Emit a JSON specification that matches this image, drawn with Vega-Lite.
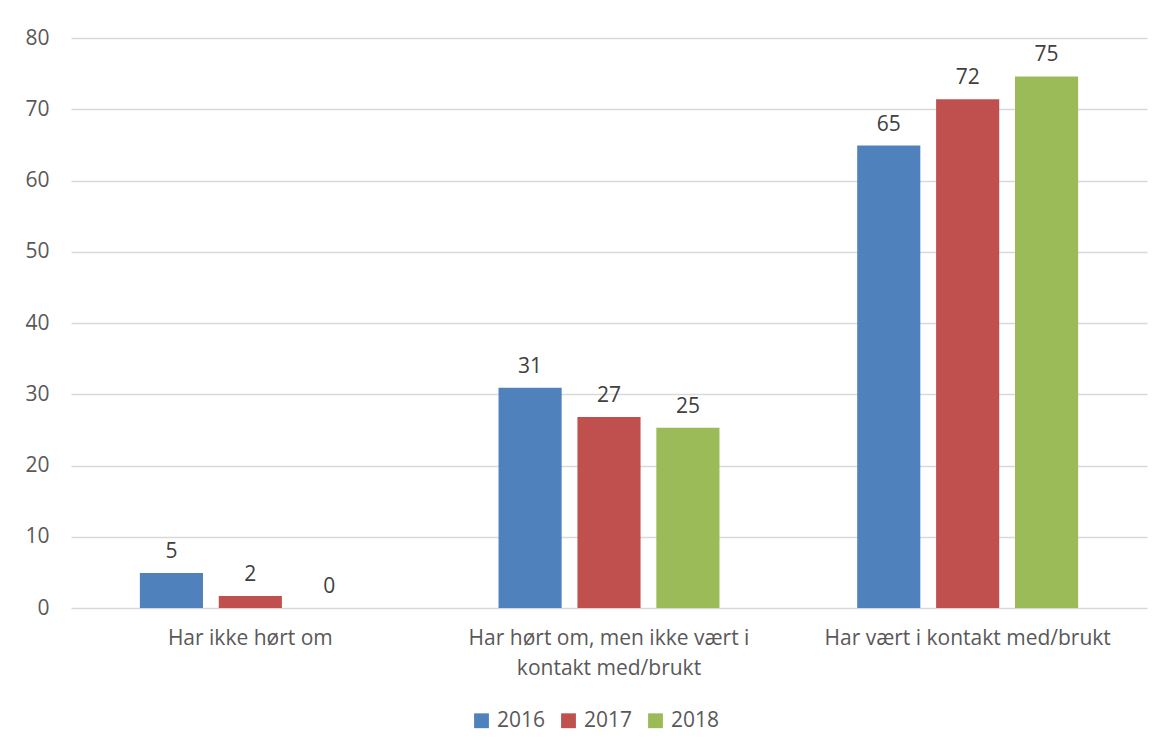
{
  "$schema": "https://vega.github.io/schema/vega-lite/v6.json",
  "autosize": {"type": "none"},
  "width": 1076,
  "height": 570,
  "padding": {"left": 71, "top": 38, "right": 20, "bottom": 145},
  "background": "white",
  "data": {
    "values": [
      {"kategori": "Har ikke hørt om", "år": "2016", "verdi": 4.9, "etikett": "5"},
      {"kategori": "Har ikke hørt om", "år": "2017", "verdi": 1.7, "etikett": "2"},
      {"kategori": "Har ikke hørt om", "år": "2018", "verdi": 0, "etikett": "0"},
      {"kategori": "Har hørt om, men ikke vært i kontakt med/brukt", "år": "2016", "verdi": 30.9, "etikett": "31"},
      {"kategori": "Har hørt om, men ikke vært i kontakt med/brukt", "år": "2017", "verdi": 26.8, "etikett": "27"},
      {"kategori": "Har hørt om, men ikke vært i kontakt med/brukt", "år": "2018", "verdi": 25.3, "etikett": "25"},
      {"kategori": "Har vært i kontakt med/brukt", "år": "2016", "verdi": 64.9, "etikett": "65"},
      {"kategori": "Har vært i kontakt med/brukt", "år": "2017", "verdi": 71.4, "etikett": "72"},
      {"kategori": "Har vært i kontakt med/brukt", "år": "2018", "verdi": 74.6, "etikett": "75"}
    ]
  },
  "config": {
    "font": "Open Sans",
    "view": {"stroke": null}
  },
  "encoding": {
    "x": {
      "field": "kategori",
      "type": "nominal",
      "sort": null,
      "scale": {"paddingInner": 0.384, "paddingOuter": 0.192},
      "axis": {
        "title": null,
        "labelAngle": 0,
        "ticks": false,
        "domain": false,
        "labelPadding": 19,
        "labelLineHeight": 30,
        "labelLimit": 0,
        "labelFontSize": 21,
        "labelColor": "#595959",
        "labelFont": "Open Sans",
        "labelExpr": "datum.value == 'Har hørt om, men ikke vært i kontakt med/brukt' ? ['Har hørt om, men ikke vært i', 'kontakt med/brukt'] : datum.value"
      }
    },
    "xOffset": {"field": "år", "type": "nominal", "scale": {"paddingInner": 0.2, "paddingOuter": 0}},
    "y": {
      "field": "verdi",
      "type": "quantitative",
      "scale": {"domain": [0, 80]},
      "axis": {
        "title": null,
        "values": [0, 10, 20, 30, 40, 50, 60, 70, 80],
        "labelOverlap": false,
        "ticks": false,
        "domain": false,
        "labelPadding": 22,
        "labelFontSize": 21,
        "labelColor": "#595959",
        "labelFont": "Open Sans",
        "gridColor": "#d9d9d9",
        "gridWidth": 1.5
      }
    }
  },
  "layer": [
    {
      "mark": {"type": "bar"},
      "encoding": {
        "color": {
          "field": "år",
          "type": "nominal",
          "scale": {"domain": ["2016", "2017", "2018"], "range": ["#4F81BD", "#C0504D", "#9BBB59"]},
          "legend": {
            "title": null,
            "orient": "none",
            "direction": "horizontal",
            "legendX": 400,
            "legendY": 672,
            "symbolType": "square",
            "symbolSize": 220,
            "symbolStrokeWidth": 0,
            "labelFontSize": 21,
            "labelColor": "#595959",
            "labelFont": "Open Sans",
            "labelOffset": 5,
            "columnPadding": 12
          }
        }
      }
    },
    {
      "mark": {"type": "text", "baseline": "bottom", "dy": -11, "fontSize": 21, "color": "#404040", "font": "Open Sans"},
      "encoding": {"text": {"field": "etikett"}}
    }
  ]
}
